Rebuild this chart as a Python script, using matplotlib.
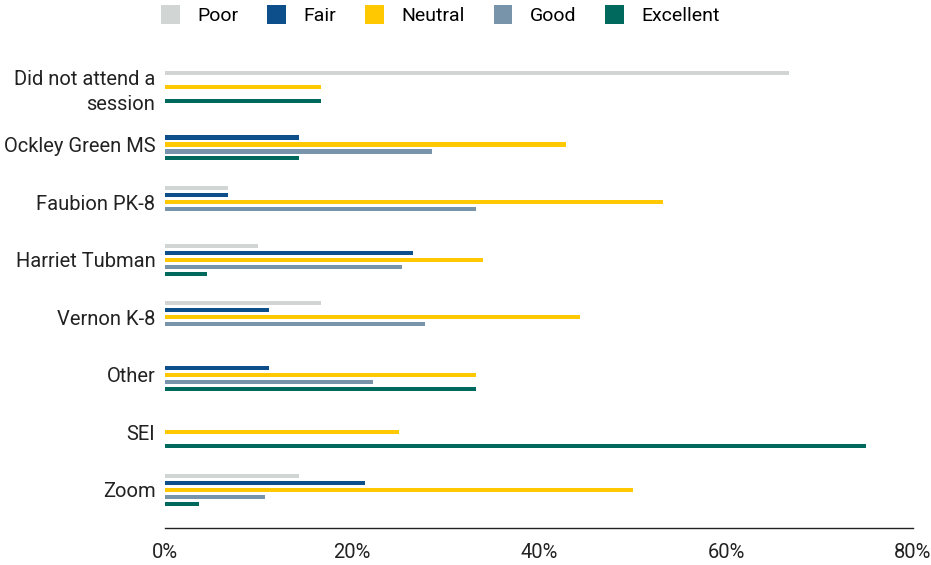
import matplotlib.pyplot as plt
import numpy as np

plt.rcParams['font.family'] = ['Roboto', 'DejaVu Sans']

# categories (top to bottom)
places = ["Did not attend a\nsession", "Ockley Green MS", "Faubion PK-8", "Harriet Tubman",
          "Vernon K-8", "Other", "SEI", "Zoom"]

# percent of responses per rating
poor      = [66.7, 0.0, 6.7, 10.0, 16.7, 0.0, 0.0, 14.3]
fair      = [0.0, 14.3, 6.7, 26.5, 11.1, 11.1, 0.0, 21.4]
neutral   = [16.7, 42.9, 53.3, 34.0, 44.4, 33.3, 25.0, 50.0]
good      = [0.0, 28.6, 33.3, 25.4, 27.8, 22.2, 0.0, 10.7]
excellent = [16.7, 14.3, 0.0, 4.5, 0.0, 33.3, 75.0, 3.6]

ratings = ["Poor", "Fair", "Neutral", "Good", "Excellent"]
series = [poor, fair, neutral, good, excellent]
colors = ["#d1d5d4", "#0d4f8b", "#ffc800", "#7894aa", "#00695e"]

fig = plt.figure(figsize=(9.31, 5.65), dpi=100)
ax = fig.add_axes([0.1772, 0.0655, 0.8035, 0.8483])

y = np.arange(len(places))
pitch = 0.1215
for i, (vals, c, name) in enumerate(zip(series, colors, ratings)):
    ax.barh(y + (i - 2) * pitch, vals, height=0.07, color=c, label=name, linewidth=0)

ax.set_xlim(0, 80)
ax.set_ylim(len(places) - 1 + 0.665, -0.665)
ax.set_xticks([0, 20, 40, 60, 80])
ax.set_xticklabels(["0%", "20%", "40%", "60%", "80%"])
ax.set_yticks(y)
ax.set_yticklabels(places, linespacing=1.4)
ax.tick_params(axis='both', length=0, labelsize=14.5, colors='#222222')
ax.tick_params(axis='x', pad=11)
ax.tick_params(axis='y', pad=7)
for s in ['top', 'right', 'left']:
    ax.spines[s].set_visible(False)
ax.spines['bottom'].set_color('#222222')
ax.spines['bottom'].set_linewidth(1.0)

handles, labels = ax.get_legend_handles_labels()
fig.legend(handles, labels, loc='upper center', bbox_to_anchor=(0.473, 1.022), ncol=5,
           frameon=False, fontsize=14, handlelength=0.95, handleheight=1.15,
           columnspacing=1.5, handletextpad=0.9)

fig.savefig("out.png", dpi=100)
